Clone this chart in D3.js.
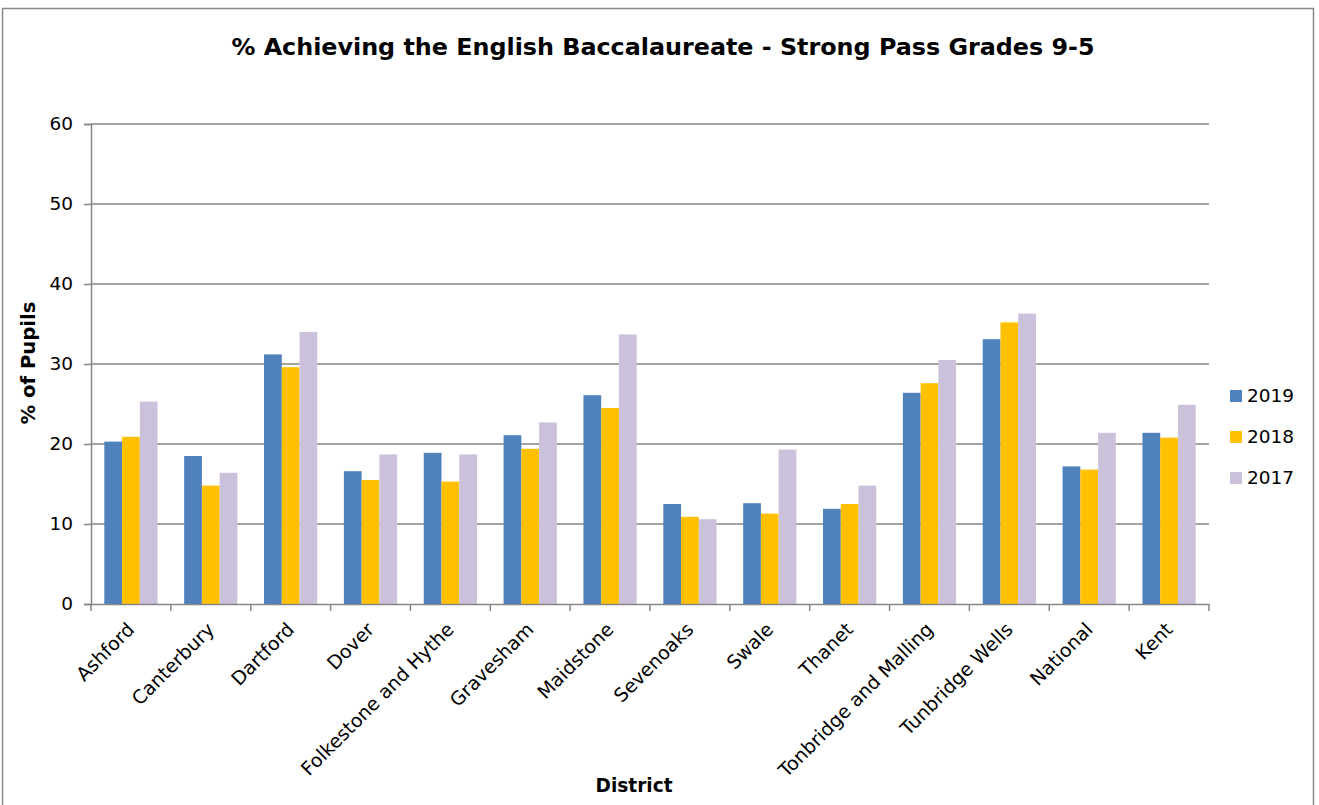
<!DOCTYPE html>
<html><head><meta charset="utf-8">
<script src="https://cdn.jsdelivr.net/npm/d3@7"></script>
<style>body{margin:0;background:#fff;} svg{display:block;}</style>
</head><body>
<svg id="chart" width="1319" height="805"></svg>
<script>
const categories = ["Ashford","Canterbury","Dartford","Dover","Folkestone and Hythe","Gravesham","Maidstone","Sevenoaks","Swale","Thanet","Tonbridge and Malling","Tunbridge Wells","National","Kent"];
const seriesNames = ["2019","2018","2017"];
const values2019 = [20.3,18.5,31.2,16.6,18.9,21.1,26.1,12.5,12.6,11.9,26.4,33.1,17.2,21.4];
const values2018 = [20.9,14.8,29.6,15.5,15.3,19.4,24.5,10.9,11.3,12.5,27.6,35.2,16.8,20.8];
const values2017 = [25.3,16.4,34.0,18.7,18.7,22.7,33.7,10.6,19.3,14.8,30.5,36.3,21.4,24.9];
const yTicks = [0,10,20,30,40,50,60];
const colors = ["#4F81BD","#FFC000","#CCC1DA"];
const seriesValues = [values2019, values2018, values2017];

const svg = d3.select("#chart");
const font = "'DejaVu Sans', Verdana, sans-serif";
const pLeft = 91, pRight = 1209, pTop = 124, pBottom = 604;

// outer border
svg.append("rect").attr("x",2.5).attr("y",8.5).attr("width",1311).attr("height",800)
  .attr("fill","none").attr("stroke","#888").attr("stroke-width",1.5);

const x = d3.scaleBand().domain(categories).range([pLeft,pRight]).paddingInner(0).paddingOuter(0);
const x1 = d3.scaleBand().domain(seriesNames).range([0,x.bandwidth()]).paddingInner(0).paddingOuter(0.75);
const y = d3.scaleLinear().domain([0,60]).range([pBottom,pTop]);

// gridlines
svg.append("g").selectAll("line").data(yTicks.filter(d=>d>0)).join("line")
  .attr("x1",pLeft).attr("x2",pRight).attr("y1",d=>y(d)).attr("y2",d=>y(d))
  .attr("stroke","#868686").attr("stroke-width",1.5);

// bars
const groups = svg.append("g").selectAll("g").data(categories).join("g")
  .attr("transform",d=>`translate(${x(d)},0)`);
groups.selectAll("rect").data((c,i)=>seriesNames.map((s,j)=>({s,v:seriesValues[j][i],j})))
  .join("rect")
  .attr("x",d=>x1(d.s)).attr("width",x1.bandwidth())
  .attr("y",d=>y(d.v)).attr("height",d=>y(0)-y(d.v))
  .attr("fill",d=>colors[d.j]);

// y axis
const yAxis = d3.axisLeft(y).tickValues(yTicks).tickSize(7).tickPadding(11);
const gy = svg.append("g").attr("transform",`translate(${pLeft},0)`).call(yAxis);
gy.select(".domain").attr("stroke","#868686").attr("stroke-width",1.5);
gy.selectAll(".tick line").attr("stroke","#868686").attr("stroke-width",1.5);
gy.selectAll(".tick text").attr("font-family",font).attr("font-size",18.5).attr("fill","#000");

// x axis
const xAxis = d3.axisBottom(x).tickSize(0).tickFormat("");
const gx = svg.append("g").attr("transform",`translate(0,${pBottom})`).call(xAxis);
gx.select(".domain").attr("stroke","#868686").attr("stroke-width",1.5);
gx.selectAll(".tick").remove();
const bounds = categories.map(c=>x(c)).concat([pRight]);
gx.selectAll("line.b").data(bounds).join("line").attr("class","b")
  .attr("x1",d=>d).attr("x2",d=>d).attr("y1",0).attr("y2",7)
  .attr("stroke","#868686").attr("stroke-width",1.5);
// category labels
svg.append("g").selectAll("text").data(categories).join("text")
  .attr("transform",d=>`translate(${x(d)+x.bandwidth()/2},${pBottom+22}) rotate(-45)`)
  .attr("text-anchor","end").attr("dy","0.35em")
  .attr("font-family",font).attr("font-size",19).attr("fill","#000")
  .text(d=>d);

// title
svg.append("text").attr("x",663).attr("y",55).attr("text-anchor","middle")
  .attr("font-family",font).attr("font-weight","bold").attr("font-size",23.5)
  .attr("textLength",863).attr("lengthAdjust","spacingAndGlyphs")
  .text("% Achieving the English Baccalaureate - Strong Pass Grades 9-5");

// axis titles
svg.append("text").attr("transform","translate(35,363) rotate(-90)").attr("text-anchor","middle")
  .attr("font-family",font).attr("font-weight","bold").attr("font-size",20)
  .attr("textLength",123).attr("lengthAdjust","spacingAndGlyphs")
  .text("% of Pupils");
svg.append("text").attr("x",634).attr("y",792).attr("text-anchor","middle")
  .attr("font-family",font).attr("font-weight","bold").attr("font-size",20)
  .attr("textLength",77).attr("lengthAdjust","spacingAndGlyphs")
  .text("District");

// legend
const lg = svg.append("g").selectAll("g").data(seriesNames).join("g")
  .attr("transform",(d,i)=>`translate(1230,${390+i*41})`);
lg.append("rect").attr("width",12).attr("height",12).attr("fill",(d,i)=>colors[i]);
lg.append("text").attr("x",17).attr("y",6).attr("dy","0.35em")
  .attr("font-family",font).attr("font-size",18.5).text(d=>d);
</script>
</body></html>
